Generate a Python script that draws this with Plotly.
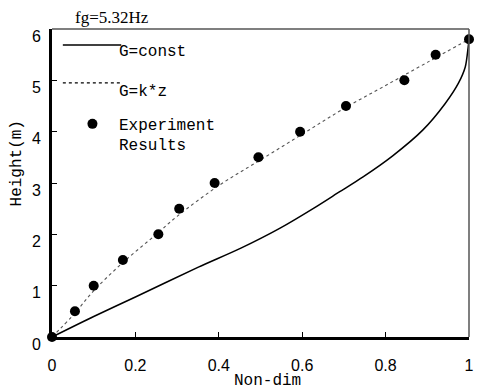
import plotly.graph_objects as go

# G=const curve
const_x = [0, 0.1, 0.2, 0.351, 0.453, 0.547, 0.628, 0.69, 0.746, 0.817, 0.889, 0.943, 0.975, 0.991, 0.998, 1.0]
const_y = [0, 0.4, 0.78, 1.36, 1.73, 2.12, 2.51, 2.83, 3.12, 3.53, 4.03, 4.55, 4.95, 5.26, 5.65, 5.8]

# G=k*z curve
kz_x = [0, 0.05, 0.1, 0.17, 0.25, 0.3, 0.4, 0.5, 0.6, 0.7, 0.8, 0.9, 1.0]
kz_y = [0, 0.42, 0.9, 1.45, 2.0, 2.35, 2.95, 3.45, 3.95, 4.45, 4.9, 5.35, 5.8]

# Experiment results
exp_x = [0, 0.055, 0.1, 0.17, 0.255, 0.305, 0.39, 0.495, 0.595, 0.705, 0.845, 0.92, 1.0]
exp_y = [0, 0.5, 1.0, 1.5, 2.0, 2.5, 3.0, 3.5, 4.0, 4.5, 5.0, 5.5, 5.8]

x_ticks = [0, 0.2, 0.4, 0.6, 0.8, 1]
x_labels = ["0", "0.2", "0.4", "0.6", "0.8", "1"]
y_ticks = [0, 1, 2, 3, 4, 5, 6]

legend_labels = ["G=const", "G=k*z", "Experiment", "Results"]

mono = "Liberation Mono"
sans = "Liberation Sans"
serif = "Liberation Serif"

fig = go.Figure()
fig.add_trace(go.Scatter(x=const_x, y=const_y, mode="lines", name=legend_labels[0],
                         line=dict(color="black", width=1.5, shape="spline", smoothing=0.8),
                         cliponaxis=False))
fig.add_trace(go.Scatter(x=kz_x, y=kz_y, mode="lines", name=legend_labels[1],
                         line=dict(color="#555", width=1.1, dash="3px,3px", shape="spline"),
                         cliponaxis=False))
fig.add_trace(go.Scatter(x=exp_x, y=exp_y, mode="markers", name=legend_labels[2] + " " + legend_labels[3],
                         marker=dict(color="black", size=10), cliponaxis=False))

legfont = dict(family=mono, size=16, color="black")
annotations = [
    dict(text="fg=5.32Hz", xref="paper", yref="paper", x=0.145, y=1.036,
         xanchor="center", yanchor="middle", showarrow=False,
         font=dict(family=serif, size=17, color="black")),
    dict(text="Non-dim", xref="paper", yref="paper", x=0.517, y=-0.143,
         xanchor="center", yanchor="middle", showarrow=False,
         font=dict(family=mono, size=16, color="black")),
    dict(text="Height(m)", xref="paper", yref="paper", x=-0.085, y=0.562,
         xanchor="center", yanchor="middle", showarrow=False, textangle=-90,
         font=dict(family=mono, size=16, color="black")),
    dict(text=legend_labels[0], xref="paper", yref="paper", x=0.156, y=0.925,
         xanchor="left", yanchor="middle", showarrow=False, font=legfont),
    dict(text=legend_labels[1], xref="paper", yref="paper", x=0.156, y=0.795,
         xanchor="left", yanchor="middle", showarrow=False, font=legfont),
    dict(text=legend_labels[2], xref="paper", yref="paper", x=0.156, y=0.684,
         xanchor="left", yanchor="middle", showarrow=False, font=legfont),
    dict(text=legend_labels[3], xref="paper", yref="paper", x=0.156, y=0.619,
         xanchor="left", yanchor="middle", showarrow=False, font=legfont),
]

shapes = [
    dict(type="line", xref="paper", yref="paper", x0=0, x1=1, y0=1, y1=1,
         line=dict(color="#555", width=1.5)),
    dict(type="line", xref="paper", yref="paper", x0=1, x1=1, y0=0, y1=1,
         line=dict(color="#555", width=1.5)),
    # legend samples
    dict(type="line", xref="paper", yref="paper", x0=0.026, x1=0.166, y0=0.948, y1=0.948,
         line=dict(color="black", width=1.5)),
    dict(type="line", xref="paper", yref="paper", x0=0.026, x1=0.166, y0=0.825, y1=0.825,
         line=dict(color="black", width=1.2, dash="3px,3px")),
    dict(type="circle", xref="paper", yref="paper", xsizemode="pixel", ysizemode="pixel",
         xanchor=0.097, yanchor=0.692, x0=-5, x1=5, y0=-5, y1=5,
         fillcolor="black", line=dict(color="black", width=0)),
]

fig.update_layout(
    width=480, height=391,
    margin=dict(l=52, r=6, t=29, b=54),
    plot_bgcolor="white", paper_bgcolor="white",
    showlegend=False,
    annotations=annotations,
    shapes=shapes,
)
fig.update_xaxes(range=[0, 1], tickvals=x_ticks, ticktext=x_labels,
                 showgrid=False, zeroline=False, showline=True, linecolor="black", linewidth=3,
                 ticks="inside", ticklen=5, tickcolor="black",
                 ticklabelstandoff=12,
                 tickfont=dict(family=sans, size=16, color="black"))
fig.update_yaxes(range=[0, 6], tickvals=y_ticks,
                 showgrid=False, zeroline=False, showline=True, linecolor="black", linewidth=3,
                 ticks="inside", ticklen=5, tickcolor="black",
                 ticklabelstandoff=5, ticklabelshift=7,
                 tickfont=dict(family=sans, size=16, color="black"))

fig.write_html("out.html")
